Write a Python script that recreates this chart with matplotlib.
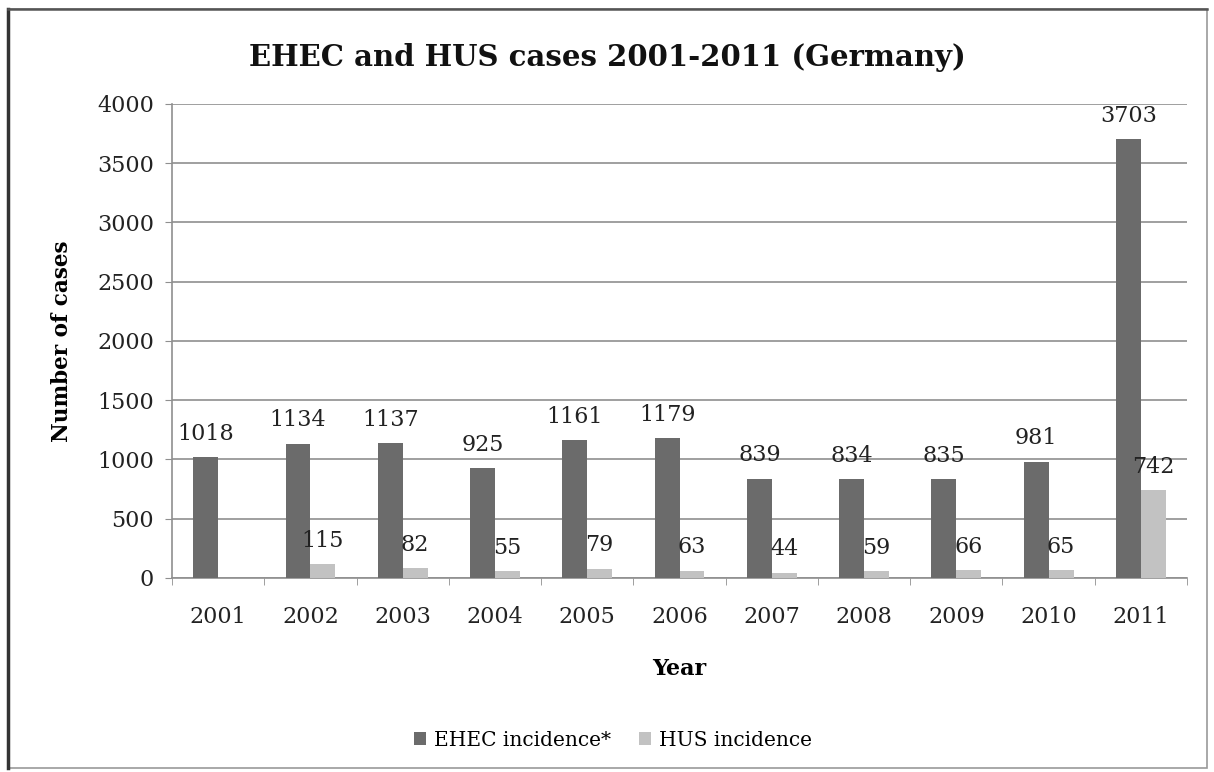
import matplotlib.pyplot as plt
import numpy as np
from matplotlib.patches import Rectangle

years = ["2001", "2002", "2003", "2004", "2005", "2006", "2007", "2008", "2009", "2010", "2011"]
ehec = [1018, 1134, 1137, 925, 1161, 1179, 839, 834, 835, 981, 3703]
# no HUS value given for 2001
hus = [np.nan, 115, 82, 55, 79, 63, 44, 59, 66, 65, 742]

plt.rcParams['font.family'] = 'DejaVu Serif'

dark = '#6b6b6b'
light = '#c2c2c2'
w = 0.27

fig = plt.figure(figsize=(12.14, 7.72), dpi=100)
ax = fig.add_axes([0.1417, 0.2513, 0.8361, 0.614])

x = np.arange(len(years))
b1 = ax.bar(x - w/2, ehec, w, color=dark, label='EHEC incidence*', zorder=3)
b2 = ax.bar(x + w/2, hus, w, color=light, label='HUS incidence', zorder=3)

for xi, v in zip(x, ehec):
    ax.annotate(str(v), (xi - w/2, v), xytext=(0, 9), textcoords='offset points',
                ha='center', va='bottom', fontsize=16, color='#222222')
for xi, v in zip(x, hus):
    if np.isnan(v):
        continue
    ax.annotate(str(int(v)), (xi + w/2, v), xytext=(0, 9), textcoords='offset points',
                ha='center', va='bottom', fontsize=16, color='#222222')

ax.set_xlim(-0.5, len(years) - 0.5)
ax.set_ylim(0, 4000)
ax.set_yticks(np.arange(0, 4001, 500))
ax.yaxis.grid(True, color='#8f8f8f', linewidth=1.2, zorder=0)
ax.set_axisbelow(True)

# categories labelled at centres, ticks drawn at boundaries
ax.set_xticks(x)
ax.set_xticklabels(years)
ax.set_xticks(np.arange(-0.5, len(years)), minor=True)
ax.tick_params(axis='x', which='major', length=0, pad=20, labelsize=16, labelcolor='#222222')
ax.tick_params(axis='x', which='minor', length=5, color='#8f8f8f', direction='out')
ax.tick_params(axis='y', length=5, color='#8f8f8f', labelsize=16, labelcolor='#222222', pad=8)

for s in ['top', 'right']:
    ax.spines[s].set_visible(False)
for s in ['left', 'bottom']:
    ax.spines[s].set_color('#8f8f8f')
    ax.spines[s].set_linewidth(1.2)

fig.text(0.5, 0.926, 'EHEC and HUS cases 2001-2011 (Germany)', fontsize=21,
         fontweight='bold', ha='center', va='center', color='#111111')
ax.set_ylabel('Number of cases', fontsize=15.5, fontweight='bold', labelpad=17)
ax.set_xlabel('Year', fontsize=16, fontweight='bold', labelpad=22)

fig.legend(handles=[b1, b2], loc='center', bbox_to_anchor=(0.505, 0.041), ncol=2,
           frameon=False, fontsize=14.5, handlelength=0.6, handleheight=0.6,
           handletextpad=0.4, columnspacing=1.4)

# outer chart frame
fig.patches.append(Rectangle((0.007, 0.005), 0.987, 0.983, transform=fig.transFigure,
                             fill=False, edgecolor='#9a9a9a', linewidth=1.2))
fig.add_artist(plt.Line2D([0.007, 0.007], [0.005, 0.988], color='#333333', linewidth=2.5))
fig.add_artist(plt.Line2D([0.007, 0.994], [0.988, 0.988], color='#555555', linewidth=1.8))

fig.savefig('out.png', dpi=100)
